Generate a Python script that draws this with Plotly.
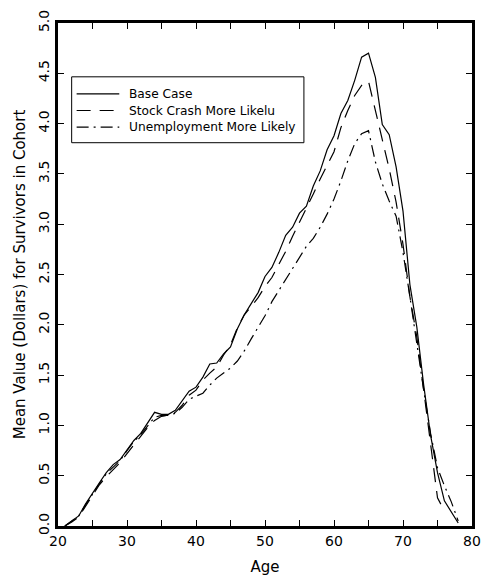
import plotly.graph_objects as go

ages = list(range(21, 79))

base_case = [0.00, 0.05, 0.10, 0.22, 0.33, 0.43, 0.53, 0.61, 0.66, 0.76,
             0.85, 0.92, 1.02, 1.13, 1.11, 1.11, 1.15, 1.25, 1.34, 1.38,
             1.48, 1.61, 1.62, 1.71, 1.78, 1.96, 2.10, 2.21, 2.32, 2.48,
             2.57, 2.72, 2.89, 2.97, 3.11, 3.18, 3.38, 3.53, 3.74, 3.88,
             4.10, 4.23, 4.43, 4.66, 4.70, 4.46, 3.99, 3.89, 3.57, 3.13,
             2.40, 1.98, 1.40, 0.90, 0.53, 0.25, 0.14, 0.03]

ages_stock = list(range(21, 77))
stock_crash = [0.00, 0.04, 0.09, 0.20, 0.31, 0.41, 0.49, 0.56, 0.63, 0.72,
               0.81, 0.90, 0.98, 1.05, 1.09, 1.10, 1.13, 1.20, 1.30, 1.35,
               1.45, 1.52, 1.58, 1.70, 1.80, 1.97, 2.10, 2.18, 2.27, 2.38,
               2.47, 2.60, 2.73, 2.88, 3.02, 3.15, 3.30, 3.45, 3.58, 3.72,
               3.96, 4.13, 4.28, 4.38, 4.42, 4.13, 3.82, 3.55, 3.22, 2.80,
               2.28, 1.88, 1.35, 0.82, 0.28, 0.15]

unemployment = [0.00, 0.05, 0.10, 0.21, 0.32, 0.42, 0.52, 0.59, 0.65, 0.75,
                0.84, 0.91, 1.00, 1.08, 1.10, 1.10, 1.12, 1.18, 1.26, 1.29,
                1.32, 1.40, 1.47, 1.52, 1.57, 1.64, 1.74, 1.86, 1.97, 2.09,
                2.23, 2.34, 2.45, 2.55, 2.66, 2.78, 2.86, 2.97, 3.10, 3.25,
                3.43, 3.63, 3.80, 3.90, 3.93, 3.62, 3.40, 3.23, 3.08, 2.72,
                2.28, 1.80, 1.35, 0.92, 0.58, 0.40, 0.24, 0.05]

series_names = ["Base Case", "Stock Crash More Likelu", "Unemployment More Likely"]

x_ticks = [20, 30, 40, 50, 60, 70, 80]
y_ticks = [0.0, 0.5, 1.0, 1.5, 2.0, 2.5, 3.0, 3.5, 4.0, 4.5, 5.0]
y_tick_text = ["0.0", "0.5", "1.0", "1.5", "2.0", "2.5", "3.0", "3.5", "4.0", "4.5", "5.0"]

FONT = "DejaVu Sans"
DASHES = ["solid", "14px,9px", "12px,5px,2px,5px"]

fig = go.Figure()
fig.add_trace(go.Scatter(x=ages, y=base_case, mode="lines", name=series_names[0],
                         line=dict(color="black", width=1.2, dash=DASHES[0])))
fig.add_trace(go.Scatter(x=ages_stock, y=stock_crash, mode="lines", name=series_names[1],
                         line=dict(color="black", width=1.2, dash=DASHES[1])))
fig.add_trace(go.Scatter(x=ages, y=unemployment, mode="lines", name=series_names[2],
                         line=dict(color="black", width=1.2, dash=DASHES[2])))

# Legend drawn as a boxed key in paper coordinates
shapes = [dict(type="rect", xref="paper", yref="paper", x0=0.033, x1=0.594,
               y0=0.762, y1=0.893, line=dict(color="black", width=1),
               fillcolor="white", layer="above")]
annotations = []
row_y = [0.859, 0.826, 0.793]
for name, dash, ry in zip(series_names, DASHES, row_y):
    shapes.append(dict(type="line", xref="paper", yref="paper", x0=0.045, x1=0.148,
                       y0=ry, y1=ry, line=dict(color="black", width=1.2, dash=dash),
                       layer="above"))
    annotations.append(dict(xref="paper", yref="paper", x=0.166, y=ry, text=name,
                            showarrow=False, xanchor="left", yanchor="middle",
                            font=dict(family=FONT, size=12.2, color="black")))

fig.update_layout(
    width=491, height=584,
    margin=dict(l=58, r=10, t=14, b=58),
    paper_bgcolor="white", plot_bgcolor="white",
    font=dict(family=FONT, color="black", size=14),
    showlegend=False,
    shapes=shapes,
    annotations=annotations,
    xaxis=dict(range=[20, 80], tickvals=x_ticks, ticks="inside", ticklen=6,
               tickwidth=1, tickcolor="black",
               minor=dict(dtick=5, tick0=20, ticks="inside", ticklen=6, tickcolor="black"),
               showline=True, linecolor="black", linewidth=3, mirror="ticks",
               showgrid=False, zeroline=False,
               tickfont=dict(family=FONT, size=14),
               title=dict(text="Age", font=dict(family=FONT, size=15), standoff=14)),
    yaxis=dict(range=[0, 5], tickvals=y_ticks, ticktext=y_tick_text, ticks="inside",
               ticklen=6, tickwidth=1, tickcolor="black", tickangle=-90,
               showline=True, linecolor="black", linewidth=3, mirror="ticks",
               showgrid=False, zeroline=False,
               tickfont=dict(family=FONT, size=14),
               title=dict(text="Mean Value (Dollars) for Survivors in Cohort",
                          font=dict(family=FONT, size=15), standoff=8)),
)

fig.write_html("out.html")
